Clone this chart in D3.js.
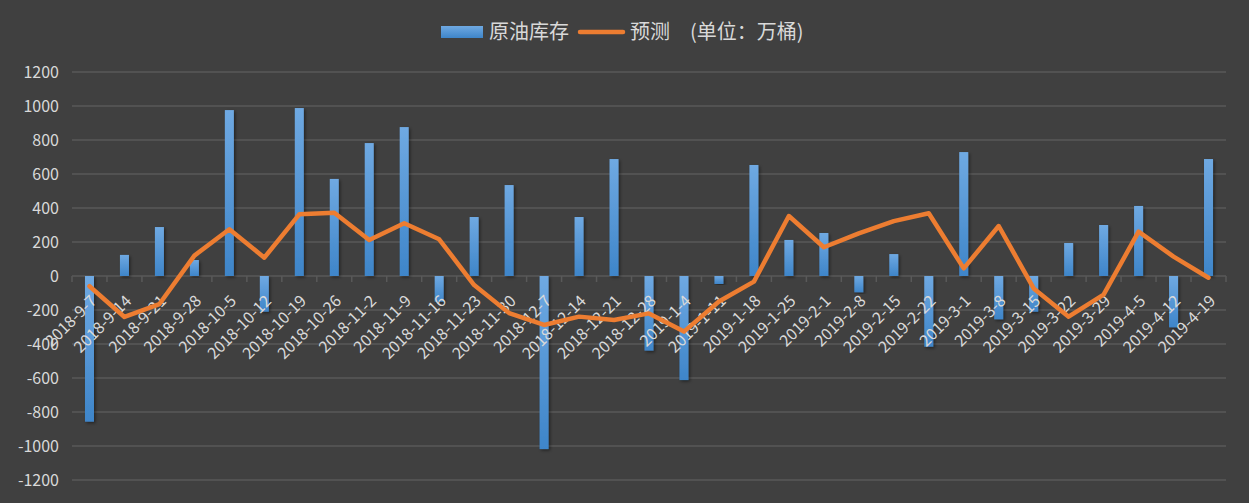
<!DOCTYPE html>
<html>
<head>
<meta charset="utf-8">
<script src="https://cdn.jsdelivr.net/npm/d3@7"></script>
<style>
  html, body { margin: 0; padding: 0; background: #404040; }
  svg { display: block; }
</style>
</head>
<body>
<div id="chart"></div>
<script>
// weekly dates
const dates = [
  "2018-9-7", "2018-9-14", "2018-9-21", "2018-9-28", "2018-10-5", "2018-10-12",
  "2018-10-19", "2018-10-26", "2018-11-2", "2018-11-9", "2018-11-16", "2018-11-23",
  "2018-11-30", "2018-12-7", "2018-12-14", "2018-12-21", "2018-12-28", "2019-1-4",
  "2019-1-11", "2019-1-18", "2019-1-25", "2019-2-1", "2019-2-8", "2019-2-15",
  "2019-2-22", "2019-3-1", "2019-3-8", "2019-3-15", "2019-3-22", "2019-3-29",
  "2019-4-5", "2019-4-12", "2019-4-19"
];
// 原油库存 (bars)
const stock = [
  -857, 124, 288, 94, 976, -210, 988, 571, 782, 876, -151, 347,
  535, -1018, 347, 688, -439, -612, -47, 653, 212, 253, -96, 129,
  -416, 729, -255, -210, 194, 300, 412, -302, 688
];
// 预测 (line)
const forecast = [
  -60, -241, -165, 120, 275, 108, 363, 372, 212, 310, 216, -53,
  -218, -288, -239, -259, -220, -327, -150, -33, 353, 169, 251, 323,
  369, 45, 294, -73, -239, -110, 261, 114, -10
];
const yTicks = [1200, 1000, 800, 600, 400, 200, 0, -200, -400, -600, -800, -1000, -1200];
const stockName = "原油库存";
const forecastName = "预测\u3000(单位\uFF1A万桶)";

const W = 1249, H = 503;
const font = "'Noto Sans CJK SC', 'Microsoft YaHei', sans-serif";
const txtColor = "#d9d9d9";
const gridColor = "#595959";

const svg = d3.select("#chart").append("svg")
  .attr("width", W).attr("height", H)
  .style("background", "#404040");

const defs = svg.append("defs");
const grad = defs.append("linearGradient")
  .attr("id", "barGrad").attr("x1", 0).attr("y1", 0).attr("x2", 0).attr("y2", 1);
grad.append("stop").attr("offset", "0%").attr("stop-color", "#6fa9e2");
grad.append("stop").attr("offset", "100%").attr("stop-color", "#3e85c9");
const shadow = defs.append("filter").attr("id", "shadow")
  .attr("x", "-50%").attr("y", "-10%").attr("width", "200%").attr("height", "120%");
shadow.append("feDropShadow").attr("dx", 1.5).attr("dy", 1.5).attr("stdDeviation", 1.5)
  .attr("flood-color", "#000").attr("flood-opacity", 0.45);

const x = d3.scaleBand().domain(dates).range([72, 1226]);
const y = d3.scaleLinear().domain([-1200, 1200]).range([480, 72]);

// grid
svg.append("g").selectAll("line").data(yTicks).join("line")
  .attr("x1", 72).attr("x2", 1226)
  .attr("y1", d => y(d)).attr("y2", d => y(d))
  .attr("stroke", gridColor).attr("stroke-width", 1.5);

// y labels
svg.append("g").selectAll("text").data(yTicks).join("text")
  .attr("x", 59).attr("y", d => y(d)).attr("dy", "0.35em")
  .attr("text-anchor", "end")
  .attr("fill", txtColor)
  .style("font-family", font).style("font-size", "16px")
  .text(d => d);

// x axis ticks at category boundaries
const bounds = dates.map(d => x(d)).concat([x.range()[1]]);
svg.append("g").selectAll("line").data(bounds).join("line")
  .attr("x1", d => d).attr("x2", d => d)
  .attr("y1", y(0)).attr("y2", y(0) + 6)
  .attr("stroke", gridColor).attr("stroke-width", 1.5);

// bars
const bw = 9;
svg.append("g").selectAll("rect").data(stock).join("rect")
  .attr("x", (d, i) => x(dates[i]) + x.bandwidth() / 2 - bw / 2)
  .attr("y", d => y(Math.max(0, d)))
  .attr("width", bw)
  .attr("height", d => Math.abs(y(d) - y(0)))
  .attr("fill", "url(#barGrad)")
  .attr("filter", "url(#shadow)");

// x labels (rotated, end of text just under the category centre)
svg.append("g").selectAll("text").data(dates).join("text")
  .attr("transform", d => `translate(${x(d) + x.bandwidth() / 2 + 4},${y(0) + 22}) rotate(-45)`)
  .attr("text-anchor", "end")
  .attr("dy", "0.35em")
  .attr("fill", txtColor)
  .style("font-family", font).style("font-size", "16px")
  .text(d => d);

// forecast line
const line = d3.line()
  .x((d, i) => x(dates[i]) + x.bandwidth() / 2)
  .y(d => y(d));
svg.append("path").datum(forecast)
  .attr("d", line)
  .attr("fill", "none")
  .attr("stroke", "#ed7d31")
  .attr("stroke-width", 4.5)
  .attr("stroke-linejoin", "round")
  .attr("stroke-linecap", "round");

// legend
const lg = svg.append("g");
lg.append("rect").attr("x", 441).attr("y", 26).attr("width", 42).attr("height", 12)
  .attr("fill", "url(#barGrad)");
lg.append("text").attr("x", 489).attr("y", 32).attr("dy", "0.35em")
  .attr("fill", txtColor).style("font-family", font).style("font-size", "20px")
  .text(stockName);
lg.append("line").attr("x1", 580).attr("x2", 623).attr("y1", 32).attr("y2", 32)
  .attr("stroke", "#ed7d31").attr("stroke-width", 4.5).attr("stroke-linecap", "round");
lg.append("text").attr("x", 630).attr("y", 32).attr("dy", "0.35em")
  .attr("fill", txtColor).style("font-family", font).style("font-size", "20px")
  .text(forecastName);
</script>
</body>
</html>
